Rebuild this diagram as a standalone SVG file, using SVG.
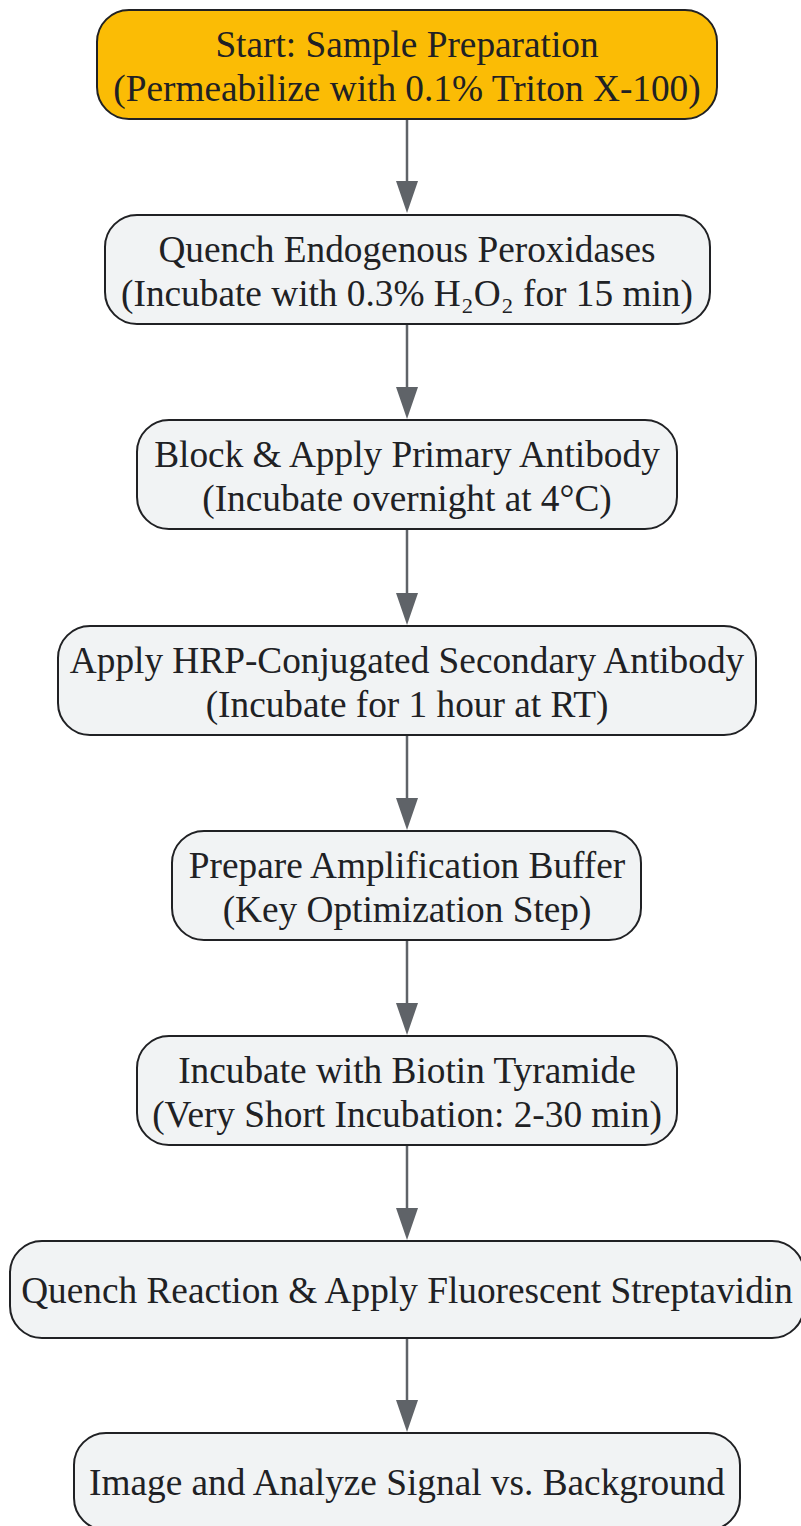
<svg xmlns="http://www.w3.org/2000/svg" width="801" height="1526" viewBox="0 0 801 1526">
<style>
.n rect{fill:#f1f3f4;stroke:#202124;stroke-width:2}
.start rect{fill:#fbbc05}
text{font-family:"Liberation Serif","Times New Roman",serif;font-size:37.3px;fill:#202124;text-anchor:middle}
.e .s{stroke:#5f6368;stroke-width:2.5;fill:none}
.e .h{fill:#5f6368}
</style>
<rect width="801" height="1526" fill="#ffffff"/>
<g id="connectors" class="e">
<path class="s" d="M407 119 V181"/><path class="h" d="M396 181 H418 L407 213 Z"/>
<path class="s" d="M407 324 V387"/><path class="h" d="M396 387 H418 L407 419 Z"/>
<path class="s" d="M407 529 V593"/><path class="h" d="M396 593 H418 L407 625 Z"/>
<path class="s" d="M407 735 V798"/><path class="h" d="M396 798 H418 L407 830 Z"/>
<path class="s" d="M407 940 V1003"/><path class="h" d="M396 1003 H418 L407 1035 Z"/>
<path class="s" d="M407 1145 V1208"/><path class="h" d="M396 1208 H418 L407 1240 Z"/>
<path class="s" d="M407 1338 V1400"/><path class="h" d="M396 1400 H418 L407 1432 Z"/>
</g>
<g id="n1" class="n start">
<rect x="97" y="10" width="620" height="109" rx="32"/>
<text x="407" y="57">Start: Sample Preparation</text>
<text x="407" y="101">(Permeabilize with 0.1% Triton X-100)</text>
</g>
<g id="n2" class="n">
<rect x="105" y="215" width="605" height="109" rx="32"/>
<text x="407" y="262">Quench Endogenous Peroxidases</text>
<text x="407" y="306">(Incubate with 0.3% H₂O₂ for 15 min)</text>
</g>
<g id="n3" class="n">
<rect x="137" y="420" width="540" height="109" rx="32"/>
<text x="407" y="467">Block &amp; Apply Primary Antibody</text>
<text x="407" y="511">(Incubate overnight at 4°C)</text>
</g>
<g id="n4" class="n">
<rect x="58" y="626" width="698" height="109" rx="32"/>
<text x="407" y="673">Apply HRP-Conjugated Secondary Antibody</text>
<text x="407" y="717">(Incubate for 1 hour at RT)</text>
</g>
<g id="n5" class="n">
<rect x="172" y="831" width="469" height="109" rx="32"/>
<text x="407" y="878">Prepare Amplification Buffer</text>
<text x="407" y="922">(Key Optimization Step)</text>
</g>
<g id="n6" class="n">
<rect x="137" y="1036" width="540" height="109" rx="32"/>
<text x="407" y="1083">Incubate with Biotin Tyramide</text>
<text x="407" y="1127">(Very Short Incubation: 2-30 min)</text>
</g>
<g id="n7" class="n">
<rect x="10" y="1241" width="794" height="97" rx="32"/>
<text x="407" y="1303">Quench Reaction &amp; Apply Fluorescent Streptavidin</text>
</g>
<g id="n8" class="n">
<rect x="74" y="1433" width="666" height="97" rx="32"/>
<text x="407" y="1495">Image and Analyze Signal vs. Background</text>
</g>
</svg>
